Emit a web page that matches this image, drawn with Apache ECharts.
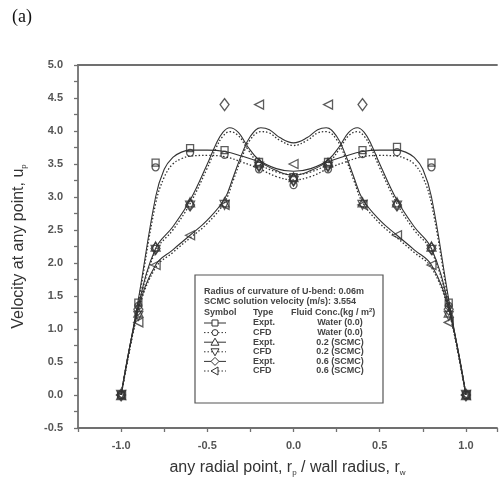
<!DOCTYPE html>
<html>
<head>
<meta charset="utf-8">
<script src="https://cdn.jsdelivr.net/npm/echarts@6/dist/echarts.min.js"></script>
<style>
  html, body { margin: 0; padding: 0; background: #fff; }
  #chart { width: 500px; height: 483px; }
</style>
</head>
<body>
<div id="chart"></div>
<script>
// Radial positions where velocities were sampled
const radialPoints = [-1, -0.9, -0.8, -0.6, -0.4, -0.2, 0, 0.2, 0.4, 0.6, 0.8, 0.9, 1];

// Point velocities u_p (m/s) at each radial position
const waterExpt = [0, 1.4, 3.52, 3.74, 3.71, 3.53, 3.3, 3.53, 3.71, 3.76, 3.52, 1.4, 0];
const waterCfd  = [0, 1.35, 3.45, 3.67, 3.64, 3.42, 3.18, 3.42, 3.65, 3.68, 3.45, 1.35, 0];
const scmc02Expt = [0, 1.25, 2.25, 2.92, 2.92, 3.52, 3.3, 3.52, 2.92, 2.92, 2.25, 1.25, 0];
const scmc02Cfd  = [0, 1.2, 2.2, 2.87, 2.88, 3.46, 3.24, 3.46, 2.88, 2.87, 2.2, 1.2, 0];
const scmc06Expt = [0, 1.3, 2.22, 2.88, 4.4, 3.48, 3.26, 3.48, 4.4, 2.88, 2.22, 1.3, 0];
const scmc06Cfd  = [0, 1.1, 1.97, 2.42, 2.88, 4.4, 3.5, 4.4, 2.88, 2.42, 1.97, 1.1, 0];

// Velocity profile curves [r/rw, u_p]
const fitWaterExpt = [[-1,0],[-0.9,1.45],[-0.8,3.0],[-0.75,3.42],[-0.7,3.6],[-0.65,3.68],[-0.6,3.71],[-0.5,3.71],[-0.4,3.69],[-0.3,3.62],[-0.2,3.53],[-0.1,3.4],[0,3.33],
  [0.1,3.4],[0.2,3.53],[0.3,3.62],[0.4,3.69],[0.5,3.71],[0.6,3.71],[0.65,3.68],[0.7,3.6],[0.75,3.42],[0.8,3.0],[0.9,1.45],[1,0]];
const fitWaterCfd = [[-1,0],[-0.9,1.4],[-0.8,2.9],[-0.75,3.3],[-0.7,3.5],[-0.65,3.58],[-0.6,3.62],[-0.5,3.63],[-0.4,3.61],[-0.3,3.53],[-0.2,3.43],[-0.1,3.31],[0,3.26],
  [0.1,3.31],[0.2,3.43],[0.3,3.53],[0.4,3.61],[0.5,3.63],[0.6,3.62],[0.65,3.58],[0.7,3.5],[0.75,3.3],[0.8,2.9],[0.9,1.4],[1,0]];
const fit02Expt = [[-1,0],[-0.9,1.35],[-0.8,2.22],[-0.7,2.55],[-0.6,2.95],[-0.5,3.5],[-0.45,3.8],[-0.41,3.98],[-0.37,4.05],[-0.32,3.98],[-0.27,3.78],[-0.2,3.56],[-0.1,3.43],[0,3.39],
  [0.1,3.43],[0.2,3.56],[0.27,3.78],[0.32,3.98],[0.37,4.05],[0.41,3.98],[0.45,3.8],[0.5,3.5],[0.6,2.95],[0.7,2.55],[0.8,2.22],[0.9,1.35],[1,0]];
const fit02Cfd = [[-1,0],[-0.9,1.32],[-0.8,2.18],[-0.7,2.5],[-0.6,2.9],[-0.5,3.44],[-0.45,3.74],[-0.41,3.92],[-0.37,3.99],[-0.32,3.93],[-0.27,3.74],[-0.2,3.51],[-0.1,3.38],[0,3.34],
  [0.1,3.38],[0.2,3.51],[0.27,3.74],[0.32,3.93],[0.37,3.99],[0.41,3.92],[0.45,3.74],[0.5,3.44],[0.6,2.9],[0.7,2.5],[0.8,2.18],[0.9,1.32],[1,0]];
const fit06Expt = [[-1,0],[-0.9,1.3],[-0.8,1.97],[-0.7,2.2],[-0.6,2.42],[-0.5,2.65],[-0.4,2.97],[-0.35,3.3],[-0.3,3.65],[-0.25,3.92],[-0.19,4.05],[-0.14,4.02],[-0.08,3.9],[0,3.82],
  [0.08,3.9],[0.14,4.02],[0.19,4.05],[0.25,3.92],[0.3,3.65],[0.35,3.3],[0.4,2.97],[0.5,2.65],[0.6,2.42],[0.7,2.2],[0.8,1.97],[0.9,1.3],[1,0]];
const fit06Cfd = [[-1,0],[-0.9,1.27],[-0.8,1.93],[-0.7,2.16],[-0.6,2.38],[-0.5,2.6],[-0.4,2.92],[-0.35,3.25],[-0.3,3.6],[-0.25,3.87],[-0.19,3.99],[-0.14,3.97],[-0.08,3.86],[0,3.78],
  [0.08,3.86],[0.14,3.97],[0.19,3.99],[0.25,3.87],[0.3,3.6],[0.35,3.25],[0.4,2.92],[0.5,2.6],[0.6,2.38],[0.7,2.16],[0.8,1.93],[0.9,1.27],[1,0]];

// Key table text
const keyTitle1 = 'Radius of curvature of U-bend: 0.06m';
const keyTitle2 = 'SCMC solution velocity (m/s): 3.554';
const keyHeader = ['Symbol', 'Type', 'Fluid Conc.(kg / m'];
const keyTypes = ['Expt.', 'CFD', 'Expt.', 'CFD', 'Expt.', 'CFD'];
const keyConc = ['Water (0.0)', 'Water (0.0)', '0.2 (SCMC)', '0.2 (SCMC)', '0.6 (SCMC)', '0.6 (SCMC)'];

const ink = '#333';
const axisGrey = '#707070';
const labelFont = 'Liberation Sans, Arial, sans-serif';

const pairs = (ys) => radialPoints.map((x, i) => [x, ys[i]]);

const markerDefs = [
  { name: 'Water Expt.', data: waterExpt, symbol: 'rect', size: 7, rotate: 0 },
  { name: 'Water CFD', data: waterCfd, symbol: 'circle', size: 7, rotate: 0 },
  { name: '0.2 Expt.', data: scmc02Expt, symbol: 'triangle', size: 9, rotate: 0 },
  { name: '0.2 CFD', data: scmc02Cfd, symbol: 'triangle', size: 9, rotate: 180 },
  { name: '0.6 Expt.', data: scmc06Expt, symbol: 'diamond', size: [9, 12], rotate: 0 },
  { name: '0.6 CFD', data: scmc06Cfd, symbol: 'triangle', size: 9, rotate: 90 }
];

const curveDefs = [
  { data: fitWaterExpt, dotted: false },
  { data: fitWaterCfd, dotted: true },
  { data: fit02Expt, dotted: false },
  { data: fit02Cfd, dotted: true },
  { data: fit06Expt, dotted: false },
  { data: fit06Cfd, dotted: true }
];

const series = [];
curveDefs.forEach((c, i) => {
  series.push({
    type: 'line',
    name: 'curve' + i,
    data: c.data,
    smooth: 0.4,
    showSymbol: false,
    silent: true,
    lineStyle: { color: ink, width: c.dotted ? 1.3 : 1.1, type: c.dotted ? [1.5, 2] : 'solid' },
    z: 2
  });
});
markerDefs.forEach((m) => {
  series.push({
    type: 'scatter',
    name: m.name,
    data: pairs(m.data),
    symbol: m.symbol,
    symbolSize: m.size,
    symbolRotate: m.rotate,
    itemStyle: { color: 'rgba(255,255,255,0)', borderColor: ink, borderWidth: 1.3 },
    z: 3
  });
});

// Key box drawn as a graphic group
const keyLeft = 195, keyTop = 275, rowH = 9.6;
const keyFont = 'bold 9px ' + labelFont;
const keyChildren = [
  { type: 'rect', shape: { x: 0, y: 0, width: 188, height: 128 },
    style: { fill: '#fff', stroke: '#555', lineWidth: 1.2 } }
];
const txt = (x, y, text, align) => ({
  type: 'text', x: x, y: y,
  style: { text: text, fill: '#444', font: keyFont, textAlign: align || 'left', textVerticalAlign: 'middle' }
});
keyChildren.push(txt(9, 17, keyTitle1));
keyChildren.push(txt(9, 27, keyTitle2));
keyChildren.push(txt(9, 38, keyHeader[0]));
keyChildren.push(txt(58, 38, keyHeader[1]));
keyChildren.push({
  type: 'text', x: 96, y: 38,
  style: {
    text: '{a|' + keyHeader[2] + '}{s|2}{a|)}', textAlign: 'left', textVerticalAlign: 'middle',
    rich: {
      a: { fill: '#444', font: keyFont },
      s: { fill: '#444', font: 'bold 6px ' + labelFont, padding: [0, 0, 5, 0] }
    }
  }
});
markerDefs.forEach((m, i) => {
  const cy = 48 + i * rowH;
  const dotted = curveDefs[i].dotted;
  keyChildren.push({
    type: 'line', shape: { x1: 9, y1: cy, x2: 31, y2: cy },
    style: { stroke: ink, lineWidth: 1, lineDash: dotted ? [1.5, 2] : null }
  });
  const cx = 20;
  const st = { fill: '#fff', stroke: ink, lineWidth: 1 };
  let shape;
  if (m.symbol === 'rect') {
    shape = { type: 'rect', shape: { x: cx - 3, y: cy - 3, width: 6, height: 6 }, style: st };
  } else if (m.symbol === 'circle') {
    shape = { type: 'circle', shape: { cx: cx, cy: cy, r: 3 }, style: st };
  } else if (m.symbol === 'diamond') {
    shape = { type: 'polygon', shape: { points: [[cx, cy - 4], [cx + 4, cy], [cx, cy + 4], [cx - 4, cy]] }, style: st };
  } else if (m.rotate === 180) {
    shape = { type: 'polygon', shape: { points: [[cx - 4, cy - 3], [cx + 4, cy - 3], [cx, cy + 4]] }, style: st };
  } else if (m.rotate === 90) {
    shape = { type: 'polygon', shape: { points: [[cx - 4, cy], [cx + 3, cy - 4], [cx + 3, cy + 4]] }, style: st };
  } else {
    shape = { type: 'polygon', shape: { points: [[cx, cy - 4], [cx + 4, cy + 3], [cx - 4, cy + 3]] }, style: st };
  }
  keyChildren.push(shape);
  keyChildren.push(txt(58, cy, keyTypes[i]));
  keyChildren.push(txt(145, cy, keyConc[i], 'center'));
});

const titleRich = {
  a: { fontFamily: labelFont, fontSize: 16, color: '#333' },
  s: { fontFamily: labelFont, fontSize: 8, color: '#333', padding: [10, 0, 0, 0] }
};
const tickLabelStyle = { color: '#555', fontFamily: labelFont, fontSize: 11, fontWeight: 'bold' };

const chart = echarts.init(document.getElementById('chart'), null, { renderer: 'canvas' });
chart.setOption({
  animation: false,
  backgroundColor: '#fff',
  grid: { left: 78, top: 65, right: 0, bottom: 55 },
  xAxis: [{
    type: 'value', min: -1.25, max: 1.18, interval: 0.25,
    name: '{a|any radial point, r}{s|p}{a| / wall radius, r}{s|w}',
    nameLocation: 'middle', nameGap: 31,
    nameTextStyle: { rich: titleRich },
    axisLine: { onZero: false, lineStyle: { color: axisGrey, width: 1.8 } },
    axisTick: { show: true, inside: false, length: 4, lineStyle: { color: axisGrey, width: 1.3 } },
    axisLabel: Object.assign({
      margin: 12,
      formatter: (v) => (Math.abs(Math.round(v * 100)) % 50 === 0 && Math.abs(v) <= 1.0) ? v.toFixed(1) : ''
    }, tickLabelStyle),
    splitLine: { show: false }
  }, {
    // top frame line
    type: 'value', position: 'top', min: -1.25, max: 1.18, interval: 0.25,
    axisLine: { onZero: false, lineStyle: { color: axisGrey, width: 1.8 } },
    axisTick: { show: false }, axisLabel: { show: false }, splitLine: { show: false }
  }],
  yAxis: {
    type: 'value', min: -0.5, max: 5.0, interval: 0.25,
    name: '{a|Velocity at any point, u}{s|p}',
    nameLocation: 'middle', nameGap: 50, nameRotate: 90,
    nameTextStyle: { rich: titleRich },
    axisLine: { show: true, onZero: false, lineStyle: { color: axisGrey, width: 1.8 } },
    axisTick: { show: true, inside: false, length: 4, lineStyle: { color: axisGrey, width: 1.3 } },
    axisLabel: Object.assign({
      margin: 15,
      formatter: (v) => (Math.abs(Math.round(v * 100)) % 50 === 0) ? v.toFixed(1) : ''
    }, tickLabelStyle),
    splitLine: { show: false }
  },
  graphic: [
    { type: 'text', left: 12, top: 8,
      style: { text: '(a)', fill: '#111', font: '18px "Liberation Serif", "Times New Roman", serif' } },
    { type: 'group', x: keyLeft, y: keyTop, z: 10, children: keyChildren }
  ],
  series: series
});
</script>
</body>
</html>
